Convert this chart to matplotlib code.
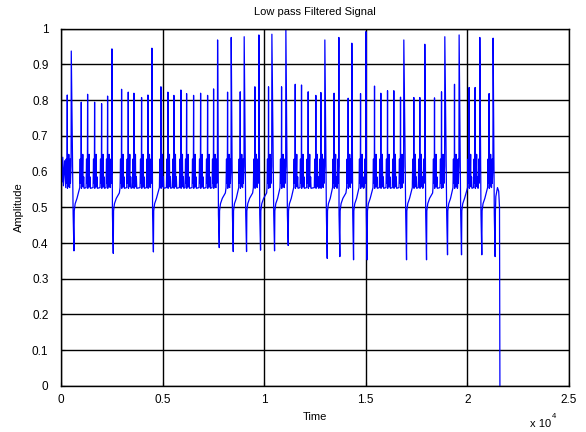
import matplotlib
matplotlib.use("Agg")
import matplotlib.pyplot as plt

plt.rcParams['font.family'] = ['Liberation Sans', 'DejaVu Sans']

# ---- data (time in samples, amplitude) ----
spike_times = [311, 508, 1000, 1312, 1656, 2000, 2295, 2509,
               2984, 3312, 3591, 3968, 4280, 4476,
               4919, 5263, 5558, 5903, 6183, 6527, 6872, 7216, 7511, 7708,
               8199, 8379, 8822, 9017, 9543, 9740, 10215, 10380, 10856, 11068,
               11528, 11838, 12166, 12543, 12790, 12986,
               13440, 13675, 14133, 14314, 14742, 15003,
               15430, 15741, 16070, 16380, 16709, 16872,
               17364, 17659, 17905, 18382, 18727, 18889, 19366, 19593,
               20085, 20380, 20611, 21068, 21265]
spike_peaks = [0.814, 0.937, 0.794, 0.816, 0.794, 0.790, 0.811, 0.943,
               0.830, 0.822, 0.819, 0.807, 0.814, 0.945,
               0.837, 0.822, 0.813, 0.828, 0.818, 0.813, 0.819, 0.813, 0.831, 0.968,
               0.822, 0.975, 0.823, 0.977, 0.837, 0.982, 0.837, 0.984, 0.837, 1.000,
               0.844, 0.842, 0.823, 0.813, 0.821, 0.968,
               0.819, 0.975, 0.805, 0.959, 0.818, 0.991,
               0.839, 0.819, 0.826, 0.826, 0.808, 0.968,
               0.807, 0.807, 0.956, 0.806, 0.823, 0.977, 0.844, 0.982,
               0.835, 0.835, 0.975, 0.818, 0.973]
dip_times = [640, 2574, 4550, 7790, 8478, 9133, 9822, 10511, 11183,
             13102, 13724, 14398, 15068, 17005, 17989, 19022, 19711,
             20709, 21364]
dip_mins = [0.378, 0.371, 0.375, 0.387, 0.376, 0.376, 0.380, 0.378, 0.393,
            0.357, 0.362, 0.353, 0.353, 0.353, 0.353, 0.367, 0.367,
            0.367, 0.362]
baseline = 0.565
end_times = [21400, 21480, 21540, 21580, 21600]
end_vals = [0.530, 0.555, 0.545, 0.500, 0.0]

# ---- build the trace from the read landmarks ----
events = [(t, 's', v) for t, v in zip(spike_times, spike_peaks)] + \
         [(t, 'd', v) for t, v in zip(dip_times, dip_mins)]
events.sort()

xs = [0, 15, 40, 90, 120, 180, 230]
ys = [0.0, 0.62, 0.57, 0.64, 0.56, 0.63, 0.565]
b = baseline
for i, (t, kind, v) in enumerate(events):
    nxt = events[i + 1] if i + 1 < len(events) else None
    prev_t = xs[-1]
    if kind == 's':
        pre = [(-75, b - 0.01), (-62, 0.60), (-52, 0.635), (-42, b + 0.002),
               (-25, 0.59), (-10, 0.615)]
        for dt, yy in pre:
            if t + dt > prev_t:
                xs.append(t + dt); ys.append(yy)
        xs.append(t); ys.append(v)
        if nxt is not None and nxt[1] == 'd':
            continue
        post = [(10, b - 0.012), (30, 0.585), (45, b - 0.005), (62, 0.61),
                (75, 0.648), (90, b - 0.008), (120, 0.585), (140, b - 0.012)]
        lim = nxt[0] - 80 if nxt is not None else 1e9
        for dt, yy in post:
            if t + dt < lim:
                xs.append(t + dt); ys.append(yy)
    else:
        xs += [t - 40, t, t + 15]
        ys += [0.48, v, 0.49]
        rec = [(60, 0.51), (150, 0.525), (300, 0.54), (500, 0.555), (800, 0.565)]
        lim = nxt[0] - 80 if nxt is not None else 21390
        for dt, yy in rec:
            if t + dt < lim:
                xs.append(t + dt); ys.append(yy)
xs += end_times
ys += end_vals

# ---- figure ----
fig = plt.figure(figsize=(5.86, 4.32), dpi=100)
ax = fig.add_axes([0.104, 0.1065, 0.867, 0.8275])
ax.plot(xs, ys, color=(0, 0, 1), linewidth=0.9)
ax.set_xlim(0, 25000)
ax.set_ylim(0, 1)
ax.set_xticks([0, 5000, 10000, 15000, 20000, 25000])
ax.set_xticklabels(['0', '0.5', '1', '1.5', '2', '2.5'])
ax.set_yticks([i / 10 for i in range(11)])
ax.set_yticklabels(['0', '0.1', '0.2', '0.3', '0.4', '0.5', '0.6', '0.7', '0.8', '0.9', '1'])
ax.grid(True, color='black', linestyle='-', linewidth=1.0)
ax.set_axisbelow(True)
ax.tick_params(direction='in', length=3, labelsize=8.5, colors='black')
ax.tick_params(axis='y', pad=9)
ax.tick_params(axis='x', pad=6)
for s in ax.spines.values():
    s.set_linewidth(1.0)
    s.set_color('black')
ax.set_title('Low pass Filtered Signal', fontsize=8, pad=10)
ax.set_xlabel('Time', fontsize=8, labelpad=4)
ax.set_ylabel('Amplitude', fontsize=8, labelpad=6)
fig.text(0.905, 0.006, 'x 10', fontsize=8, ha='left', va='bottom')
fig.text(0.941, 0.028, '4', fontsize=5.5, ha='left', va='bottom')
fig.savefig('out.png', dpi=100)
